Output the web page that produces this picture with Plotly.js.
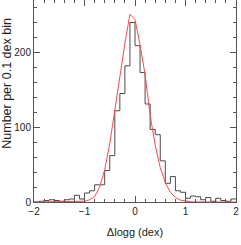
<!DOCTYPE html>
<html>
<head>
<meta charset="utf-8">
<script src="https://cdn.plot.ly/plotly-3.0.1.min.js"></script>
<style>html,body{margin:0;padding:0;background:#fff;}#chart{width:241px;height:245px;}</style>
</head>
<body>
<div id="chart"></div>
<script>
// Bin left edges (0.1 dex bins) and counts
const binEdges = [-2.0,-1.9,-1.8,-1.7,-1.6,-1.5,-1.4,-1.3,-1.2,-1.1,-1.0,-0.9,-0.8,-0.7,-0.6,-0.5,-0.4,-0.3,-0.2,-0.1,
                  0.0,0.1,0.2,0.3,0.4,0.5,0.6,0.7,0.8,0.9,1.0,1.1,1.2,1.3,1.4,1.5,1.6,1.7,1.8,1.9,2.0];
const counts = [0,1,2,3,2,1,3,4,9,4,12,15,23,23,42,62,122,145,182,240,
                209,173,131,97,90,55,25,34,15,13,5,8,7,3,6,1,5,2,1,4];
// Fitted curve (red), read at 0.1 dex steps
const fitX = [-2.0,-1.9,-1.8,-1.7,-1.6,-1.5,-1.4,-1.3,-1.2,-1.1,-1.0,-0.9,-0.8,-0.7,-0.6,-0.5,-0.4,-0.3,-0.2,-0.1,
              0.0,0.1,0.2,0.3,0.4,0.5,0.6,0.7,0.8,0.9,1.0,1.1,1.2,1.3,1.4,1.5,1.6,1.7,1.8,1.9,2.0];
const fitY = [0,0,0,0,0,0,0,0,0,0.3,1,3,7,20,43,78,123,166,212,251,
              244,210,170,116,76,46,26,13,6,2.5,1,0.3,0,0,0,0,0,0,0,0,0];
const xTickVals = [-2,-1,0,1,2];
const yTickVals = [0,100,200];
const xTitle = 'Δlogg (dex)';
const yTitle = 'Number per 0.1 dex bin';

const stepY = counts.concat([counts[counts.length-1]]);

const traces = [
  {x: binEdges, y: stepY, type: 'scatter', mode: 'lines',
   line: {shape: 'hv', color: '#4a4a4a', width: 1}, hoverinfo: 'skip'},
  {x: fitX, y: fitY, type: 'scatter', mode: 'lines',
   line: {color: '#ff4848', width: 1}, hoverinfo: 'skip'}
];

const FONT = 'Liberation Sans, Arial, sans-serif';
const axisCommon = {
  showgrid: false, zeroline: false, showline: true, linecolor: '#555', linewidth: 1,
  mirror: 'allticks', ticks: 'inside', ticklen: 6, tickcolor: '#555', tickwidth: 1,
  tickfont: {family: FONT, size: 10, color: '#222'}
};

const layout = {
  width: 241, height: 245,
  margin: {l: 34, r: 5, t: 0, b: 43},
  paper_bgcolor: '#fff', plot_bgcolor: '#fff',
  showlegend: false,
  xaxis: Object.assign({}, axisCommon, {
    range: [-2, 2], tickvals: xTickVals,
    minor: {dtick: 0.2, ticks: 'inside', ticklen: 3, tickcolor: '#555'},
    title: {text: xTitle, font: {family: FONT, size: 11, color: '#222'}, standoff: 12}
  }),
  yaxis: Object.assign({}, axisCommon, {
    range: [0, 270], tickvals: yTickVals,
    minor: {dtick: 20, ticks: 'inside', ticklen: 3, tickcolor: '#555'}
  }),
  annotations: [{
    text: yTitle, xref: 'paper', yref: 'paper',
    x: -0.132, y: 0.587, xanchor: 'center', yanchor: 'middle',
    textangle: -90, showarrow: false, borderpad: 0,
    font: {family: FONT, size: 12.5, color: '#222'}
  }]
};

Plotly.newPlot('chart', traces, layout, {displayModeBar: false, staticPlot: true});
</script>
</body>
</html>
